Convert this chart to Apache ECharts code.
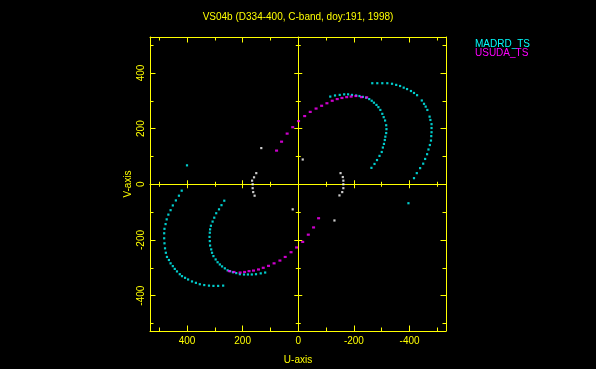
<!DOCTYPE html>
<html>
<head>
<meta charset="utf-8">
<script src="https://cdn.jsdelivr.net/npm/echarts@6/dist/echarts.min.js"></script>
<style>
html,body{margin:0;padding:0;background:#000;}
#c{width:596px;height:369px;}
</style>
</head>
<body>
<div id="c"></div>
<script>
// ---- data (u, v) ----
const titleText = 'VS04b (D334-400, C-band, doy:191, 1998)';
const seriesNames = ['MADRD_TS', 'USUDA_TS'];
const majorTicks = [-400, -200, 0, 200, 400];
const minorTicks = [-500, -300, -100, 100, 300, 500];

const madrdUpperOuter = [[-266,363],[-284,363],[-302,363],[-320,363],[-337,361],[-352,357],[-366,353],[-379,347],[-391,342],[-405,335],[-416,328],[-427,320],[-444,301],[-452,289],[-458,279],[-464,267],[-472,243],[-475,231],[-479,216],[-479,202],[-479,187],[-478,173],[-477,157],[-473,141],[-468,125],[-463,108],[-456,91],[-449,74],[-438,58],[-426,40],[-416,22]];
const madrdUpperInner = [[-115,315],[-132,319],[-149,321],[-165,323],[-179,323],[-193,321],[-208,319],[-220,317],[-232,314],[-244,311],[-255,306],[-264,300],[-272,293],[-281,285],[-288,277],[-295,267],[-302,253],[-307,241],[-312,229],[-316,212],[-317,198],[-316,184],[-313,171],[-311,159],[-308,145],[-304,132],[-300,116],[-292,102],[-283,87],[-274,73],[-263,59]];
const madrdLowerOuter = [[419,-23],[429,-41],[440,-58],[451,-76],[459,-93],[467,-109],[473,-126],[477,-143],[481,-160],[482,-176],[482,-194],[481,-212],[479,-230],[476,-246],[472,-261],[465,-272],[459,-284],[451,-294],[444,-304],[436,-313],[426,-323],[418,-330],[407,-336],[396,-342],[382,-349],[368,-354],[354,-359],[338,-362],[321,-364],[305,-365],[288,-365],[270,-364]];
const madrdLowerInner = [[266,-59],[276,-75],[285,-90],[295,-104],[302,-120],[308,-134],[314,-149],[317,-162],[318,-174],[319,-189],[318,-204],[317,-220],[313,-234],[310,-246],[305,-258],[297,-270],[290,-280],[282,-288],[274,-295],[264,-302],[254,-309],[245,-312],[235,-316],[223,-319],[210,-323],[195,-324],[181,-324],[167,-324],[152,-323],[135,-320],[119,-317]];
const madrdSingles = [[400,68],[-396,-68]];

const usudaUpper = [[-246,312],[-227,313],[-207,317],[-190,315],[-174,313],[-157,310],[-140,306],[-122,300],[-103,291],[-84,282],[-64,272],[-43,260],[-23,245],[-1,227],[20,205],[40,182],[60,153],[78,121]];
const usudaLower = [[248,-312],[231,-315],[209,-317],[193,-315],[177,-312],[161,-310],[143,-306],[126,-300],[107,-293],[87,-284],[66,-274],[47,-261],[26,-244],[6,-227],[-16,-207],[-36,-181],[-55,-155],[-73,-122]];

const otherPoints = [[133,130],[151,40],[159,25],[166,13],[164,0],[164,-14],[162,-28],[157,-41],[20,-90],[-16,89],[-152,40],[-160,26],[-162,13],[-162,0],[-162,-14],[-158,-28],[-148,-40],[-130,-130]];

// ---- chart ----
const Y = '#ffff00';
const FONT = 'Liberation Sans';
const XMIN = -531, XMAX = 533, YMIN = -527, YMAX = 529;

function xAx(position, ticks, len, o) {
  o = o || {};
  return {
    type: 'value', gridIndex: 0, min: XMIN, max: XMAX, inverse: true, position: position,
    axisLine: {show: !!o.line, onZero: !!o.onZero, onZeroAxisIndex: 0, lineStyle: {color: Y, width: 1}},
    axisTick: {show: true, inside: true, length: len, customValues: ticks, lineStyle: {color: Y, width: 1}},
    axisLabel: o.labels ? {show: true, customValues: majorTicks, color: Y, fontFamily: FONT, fontSize: 10, margin: 5} : {show: false},
    splitLine: {show: false},
    name: o.name || '', nameLocation: 'middle', nameGap: 24,
    nameTextStyle: {color: Y, fontFamily: FONT, fontSize: 10}
  };
}
function yAx(position, ticks, len, o) {
  o = o || {};
  return {
    type: 'value', gridIndex: 0, min: YMIN, max: YMAX, position: position,
    axisLine: {show: !!o.line, onZero: !!o.onZero, onZeroAxisIndex: 0, lineStyle: {color: Y, width: 1}},
    axisTick: {show: true, inside: true, length: len, customValues: ticks, lineStyle: {color: Y, width: 1}},
    axisLabel: o.labels ? {show: true, customValues: majorTicks, rotate: 90, color: Y, fontFamily: FONT, fontSize: 10, margin: 4} : {show: false},
    splitLine: {show: false},
    name: o.name || '', nameLocation: 'middle', nameGap: 17,
    nameTextStyle: {color: Y, fontFamily: FONT, fontSize: 10}
  };
}

function scat(name, data, color, size, z) {
  return {
    type: 'scatter', name: name, xAxisIndex: 0, yAxisIndex: 0,
    data: data, symbol: 'rect', symbolSize: size,
    itemStyle: {color: color}, z: z, silent: true,
    emphasis: {disabled: true}
  };
}

const chart = echarts.init(document.getElementById('c'), null, {renderer: 'canvas'});
chart.setOption({
  backgroundColor: '#000000',
  animation: false,
  title: {
    text: titleText, left: 'center', top: 7,
    textStyle: {color: Y, fontFamily: FONT, fontSize: 10, fontWeight: 'normal'}
  },
  legend: {
    orient: 'vertical', left: 465, top: 34, itemGap: -1,
    itemWidth: 0, itemHeight: 0, icon: 'rect', selectedMode: false,
    textStyle: {fontFamily: FONT, fontSize: 10},
    data: [
      {name: seriesNames[0], textStyle: {color: '#00ffff'}},
      {name: seriesNames[1], textStyle: {color: '#ff00ff'}}
    ]
  },
  grid: {left: 150, top: 37, width: 296, height: 294, outerBoundsMode: 'none', containLabel: false},
  xAxis: [
    xAx('bottom', majorTicks, 5.5, {line: true, labels: true, name: 'U-axis'}),
    xAx('bottom', minorTicks, 3.5),
    xAx('top', majorTicks, 5.5, {line: true}),
    xAx('top', minorTicks, 3.5),
    xAx('top', majorTicks, 4, {line: true, onZero: true}),
    xAx('top', minorTicks, 2.5, {onZero: true}),
    xAx('bottom', majorTicks, 4, {onZero: true}),
    xAx('bottom', minorTicks, 2.5, {onZero: true})
  ],
  yAxis: [
    yAx('left', majorTicks, 5.5, {line: true, labels: true, name: 'V-axis'}),
    yAx('left', minorTicks, 3.5),
    yAx('right', majorTicks, 5.5, {line: true}),
    yAx('right', minorTicks, 3.5),
    yAx('left', majorTicks, 4, {line: true, onZero: true}),
    yAx('left', minorTicks, 2.5, {onZero: true}),
    yAx('right', majorTicks, 4, {onZero: true}),
    yAx('right', minorTicks, 2.5, {onZero: true})
  ],
  series: [
    scat(seriesNames[0], madrdUpperOuter.concat(madrdUpperInner, madrdLowerOuter, madrdLowerInner, madrdSingles), '#00ffff', [2.2, 2.2], 3),
    scat(seriesNames[1], usudaUpper.concat(usudaLower), '#ff00ff', [3, 2.2], 4),
    scat('other', otherPoints, '#ffffff', [2.2, 2.2], 2)
  ]
});
</script>
</body>
</html>
